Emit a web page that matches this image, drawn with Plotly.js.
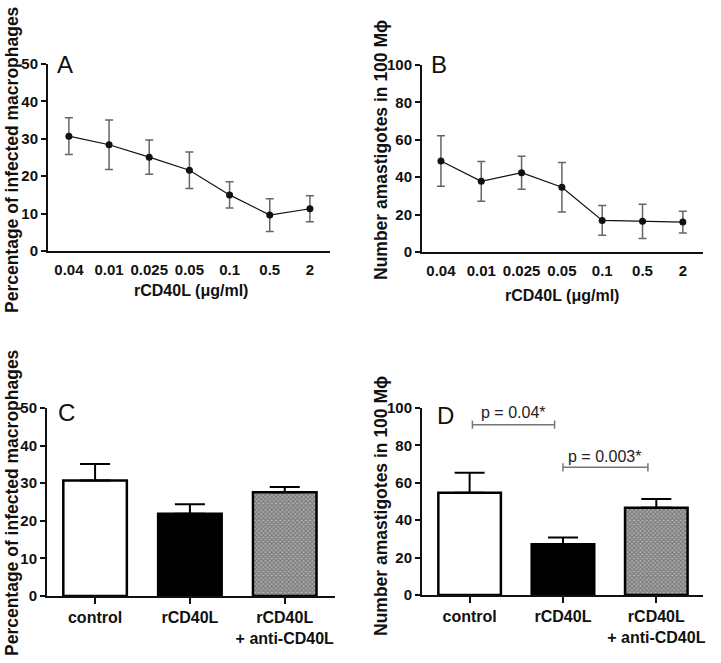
<!DOCTYPE html>
<html>
<head>
<meta charset="utf-8">
<script src="https://cdn.plot.ly/plotly-3.0.1.min.js"></script>
<style>
  html, body { margin: 0; padding: 0; background: #fff; }
  #plot { width: 721px; height: 663px; }
</style>
</head>
<body>
<div id="plot"></div>
<script>
// doses of rCD40L (ug/ml) used in panels A and B
var doses = ['0.04', '0.01', '0.025', '0.05', '0.1', '0.5', '2'];

// A: percentage of infected macrophages
var infectedPct = [30.7, 28.4, 25.1, 21.6, 15.0, 9.6, 11.3];
var infectedPctErr = [4.9, 6.6, 4.6, 4.9, 3.5, 4.4, 3.5];

// B: number of amastigotes in 100 macrophages
var amastigotes = [48.7, 37.8, 42.4, 34.6, 16.9, 16.4, 16.0];
var amastigotesErr = [13.5, 10.6, 8.8, 13.2, 8.0, 9.2, 5.8];

// C and D: treatment groups
var groups = ['control', 'rCD40L', 'rCD40L<br>+ anti-CD40L'];
var groupPct = [30.7, 21.9, 27.6];
var groupPctErr = [4.4, 2.5, 1.4];
var groupAmast = [54.7, 27.1, 46.7];
var groupAmastErr = [10.7, 3.6, 4.6];

var W = 721, H = 663;
function px(x) { return x / W; }
function py(y) { return (H - y) / H; }

var fam = 'Liberation Sans, Arial, sans-serif';
var boldTick = {family: fam, size: 15, color: '#111', weight: 'bold'};

function lineTrace(y, err, xa, ya) {
  return {
    x: doses, y: y, xaxis: xa, yaxis: ya,
    type: 'scatter', mode: 'lines+markers',
    line: {color: '#111', width: 1.2},
    marker: {color: '#111', size: 7},
    error_y: {type: 'data', array: err, visible: true, color: '#666', thickness: 1.5, width: 4},
    cliponaxis: false
  };
}

function barTrace(y, err, xa, ya) {
  return {
    x: [0, 1, 2], y: y, xaxis: xa, yaxis: ya,
    type: 'bar', width: 0.67,
    marker: {
      color: ['#ffffff', '#000000', '#b0b0b0'],
      line: {color: '#000', width: 2.5},
      pattern: {shape: ['', '', 'x'], fgcolor: '#333', size: 3, solidity: 0.6, fillmode: 'overlay'}
    },
    error_y: {type: 'data', array: err, arrayminus: [0, 0, 0], symmetric: false,
              visible: true, color: '#000', thickness: 2, width: 15},
    cliponaxis: false
  };
}

var data = [
  lineTrace(infectedPct, infectedPctErr, 'x', 'y'),
  lineTrace(amastigotes, amastigotesErr, 'x2', 'y2'),
  barTrace(groupPct, groupPctErr, 'x3', 'y3'),
  barTrace(groupAmast, groupAmastErr, 'x4', 'y4')
];

function yax(dom, max, anchor) {
  return {
    domain: dom, anchor: anchor, range: [0, max], autorange: false,
    tickvals: max === 50 ? [0, 10, 20, 30, 40, 50] : [0, 20, 40, 60, 80, 100],
    ticks: 'outside', ticklen: 5, tickwidth: 2, tickcolor: '#111',
    showline: true, linewidth: 2, linecolor: '#111',
    showgrid: false, zeroline: false, tickfont: boldTick, ticklabelstandoff: 0
  };
}

function xcat(dom, range, anchor) {
  return {
    domain: dom, anchor: anchor, type: 'category', range: range,
    showline: true, linewidth: 2, linecolor: '#111', ticks: '',
    showgrid: false, zeroline: false, tickfont: boldTick, ticklabelstandoff: 4
  };
}

function xbar(dom, range, anchor) {
  return {
    domain: dom, anchor: anchor, range: range,
    tickvals: [0, 1, 2], ticktext: groups,
    ticks: 'outside', ticklen: 6, tickwidth: 2, tickcolor: '#111',
    showline: true, linewidth: 2, linecolor: '#111',
    showgrid: false, zeroline: false, tickfont: {family: fam, size: 16, color: '#111', weight: 'bold'}
  };
}

var ytitleFont = {family: fam, size: 17.5, color: '#111', weight: 'bold'};
var xtitleFont = {family: fam, size: 16, color: '#111', weight: 'bold'};
var panelFont = {family: fam, size: 24, color: '#111'};
var pFont = {family: fam, size: 16, color: '#222'};

function note(x, y, text, font, opts) {
  var a = {xref: 'paper', yref: 'paper', x: px(x), y: py(y), text: text, showarrow: false,
           font: font, xanchor: 'center', yanchor: 'middle'};
  for (var k in opts) a[k] = opts[k];
  return a;
}

var annotations = [
  note(12, 160, 'Percentage of infected macrophages', ytitleFont, {textangle: -90}),
  note(381, 150, 'Number amastigotes in 100 M\u03d5', ytitleFont, {textangle: -90}),
  note(12, 503, 'Percentage of infected macrophages', ytitleFont, {textangle: -90}),
  note(381, 506, 'Number amastigotes in 100 M\u03d5', ytitleFont, {textangle: -90}),
  note(191, 290, 'rCD40L (\u03bcg/ml)', xtitleFont, {}),
  note(562, 295, 'rCD40L (\u03bcg/ml)', xtitleFont, {}),
  note(55, 65, 'A', panelFont, {xanchor: 'left'}),
  note(429, 65, 'B', panelFont, {xanchor: 'left'}),
  note(56, 412, 'C', panelFont, {xanchor: 'left'}),
  note(435, 415, 'D', panelFont, {xanchor: 'left'}),
  {xref: 'x4', yref: 'y4', x: 0.47, y: 97.5, text: 'p = 0.04*', showarrow: false, font: pFont},
  {xref: 'x4', yref: 'y4', x: 1.45, y: 73.8, text: 'p = 0.003*', showarrow: false, font: pFont}
];

function bracket(x0, x1, y) {
  var s = {type: 'line', xref: 'x4', yref: 'y4', line: {color: '#777', width: 1.5}};
  return [
    Object.assign({x0: x0, x1: x1, y0: y, y1: y}, s),
    Object.assign({x0: x0, x1: x0, y0: y - 2.2, y1: y + 2.2}, s),
    Object.assign({x0: x1, x1: x1, y0: y - 2.2, y1: y + 2.2}, s)
  ];
}

var layout = {
  width: W, height: H,
  margin: {l: 0, r: 0, t: 0, b: 0},
  paper_bgcolor: '#fff', plot_bgcolor: '#fff',
  showlegend: false,
  font: {family: fam, color: '#111'},
  xaxis: xcat([px(48), px(330)], [-0.52, 6.5], 'y'),
  yaxis: yax([py(251), py(64)], 50, 'x'),
  xaxis2: xcat([px(422), px(703)], [-0.47, 6.5], 'y2'),
  yaxis2: yax([py(252), py(65)], 100, 'x2'),
  xaxis3: xbar([px(47), px(335)], [-0.507, 2.53], 'y3'),
  yaxis3: yax([py(596), py(408)], 50, 'x3'),
  xaxis4: xbar([px(422), px(703)], [-0.51, 2.5], 'y4'),
  yaxis4: yax([py(595), py(408)], 100, 'x4'),
  annotations: annotations,
  shapes: [].concat(bracket(0.03, 0.91, 91.1), bracket(1.0, 1.91, 68.3))
};

Plotly.newPlot('plot', data, layout, {displayModeBar: false, staticPlot: true});
</script>
</body>
</html>
